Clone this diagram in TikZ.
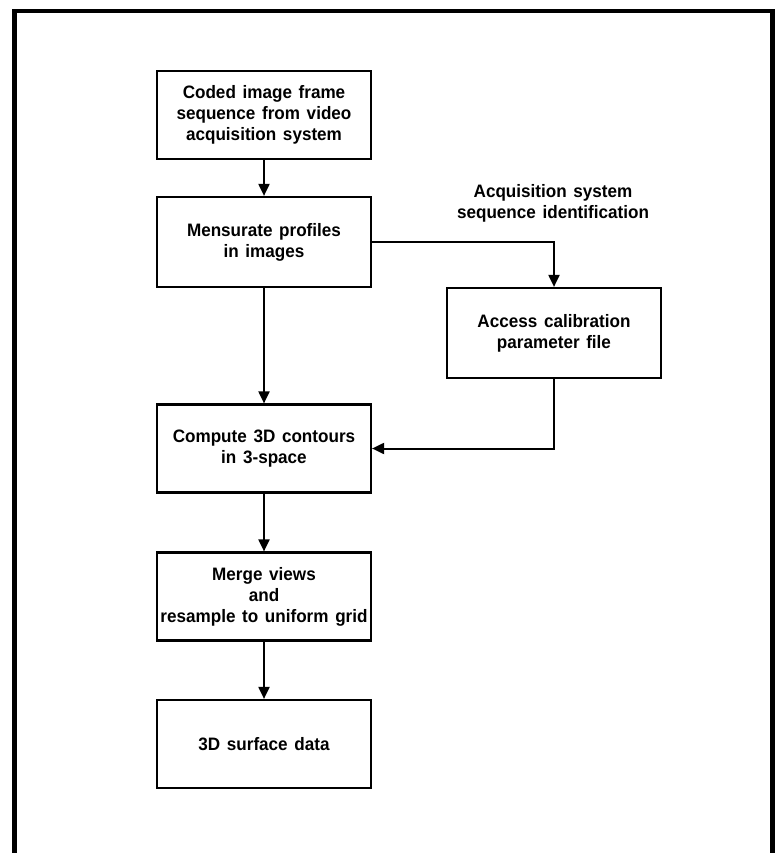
\documentclass[tikz,border=0pt]{standalone}
\usepackage{fontspec}
\setmainfont{Liberation Sans}[WordSpace=1.4, FakeStretch=0.95]
\usetikzlibrary{arrows.meta}

\tikzset{
    stage/.style={draw, line width=2.2pt, minimum width=214, minimum height=88, inner sep=2pt, align=center, font=\fontsize{18}{21}\selectfont\bfseries},
    flow/.style={line width=2pt, -{Triangle[length=12pt,width=11pt]}}
}

\begin{document}
\begin{tikzpicture}[x=1pt,y=-1pt]
            \useasboundingbox (0,0) rectangle (777,853);
            \draw [line width=4.5pt] (14.5,853) -- (14.5,11) -- (772.5,11) -- (772.5,853);

            \node [stage] (coded) at (264,115) {Coded image frame\\sequence from video\\acquisition system};
            \node [stage, minimum height=90] (mens) at (264,242) {Mensurate profiles\\in images};
            \node [stage, minimum height=90] (acc) at (554,333) {Access calibration\\parameter file};
            \node [stage] (comp) at (264,448.5) {Compute 3D contours\\in 3-space};
            \node [stage] (merge) at (264,596.5) {Merge views\\and\\resample to uniform grid};
            \node [stage] (surf) at (264,744) {3D surface data};

            \node [align=center, font=\fontsize{18}{21}\selectfont\bfseries] (ident) at (553,203) {Acquisition system\\sequence identification};

            \draw [flow] (coded) -- (mens);
            \draw [flow] (mens) -- (comp);
            \draw [flow] (mens.east) -| (acc.north);
            \draw [flow] (acc.south) |- (comp.east);
            \draw [flow] (comp) -- (merge);
            \draw [flow] (merge) -- (surf);
        \end{tikzpicture}
\end{document}
